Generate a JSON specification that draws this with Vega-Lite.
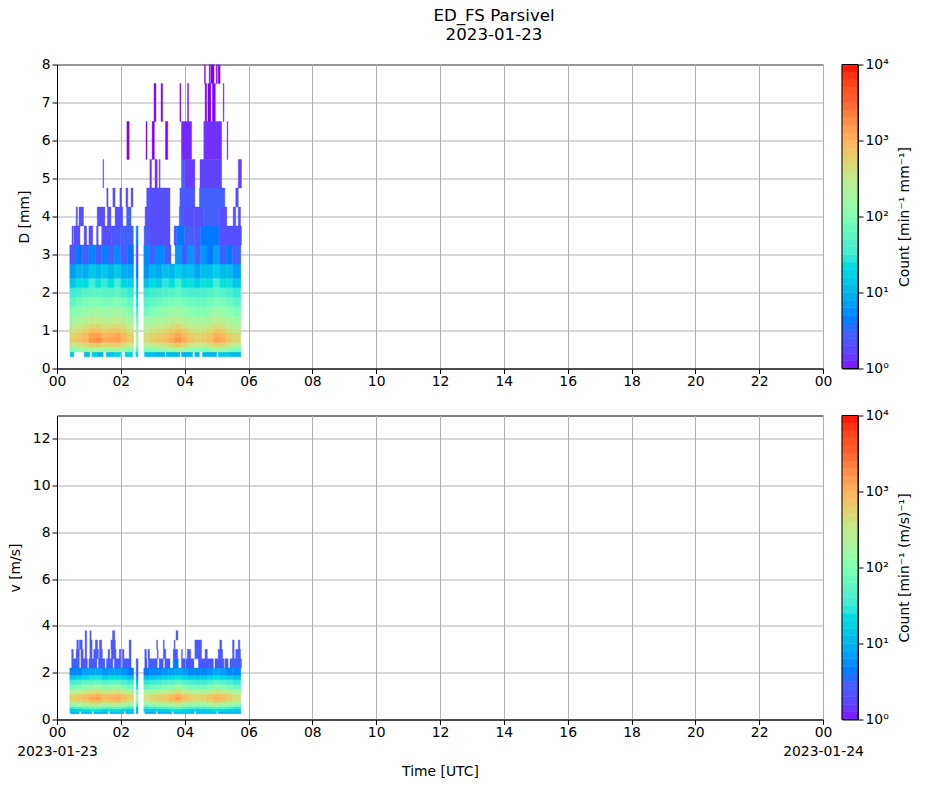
{"$schema":"https://vega.github.io/schema/vega-lite/v6.json","padding":{"left":7,"top":7.5,"right":0,"bottom":0},"background":"white","title":{"text":["ED_FS Parsivel","2023-01-23"],"anchor":"middle","frame":"group","dx":437,"fontWeight":"normal","fontSize":16.67,"font":"DejaVu Sans","lineHeight":19,"offset":13},"config":{"font":"DejaVu Sans","view":{"stroke":"black","strokeWidth":1},"axis":{"labelFont":"DejaVu Sans","titleFont":"DejaVu Sans","labelFontSize":13.9,"titleFontSize":13.9,"titleFontWeight":"normal","gridColor":"#b0b0b0","gridOpacity":1,"gridWidth":1,"tickColor":"black","domainColor":"black","labelColor":"black","titleColor":"black","tickSize":5,"zindex":1,"labelOverlap":false,"labelFlush":false,"labelBound":false}},"bounds":"flush","columns":2,"spacing":{"row":47,"column":19},
"datasets":{"dates":[{"t":0},{"t":24}],"dc":[{"d":0.312,"e":0.437},{"d":0.437,"e":0.562},{"d":0.562,"e":0.687},{"d":0.687,"e":0.812},{"d":0.812,"e":0.937},{"d":0.937,"e":1.062},{"d":1.062,"e":1.187},{"d":1.187,"e":1.375},{"d":1.375,"e":1.625},{"d":1.625,"e":1.875},{"d":1.875,"e":2.125},{"d":2.125,"e":2.375},{"d":2.375,"e":2.75},{"d":2.75,"e":3.25},{"d":3.25,"e":3.75},{"d":3.75,"e":4.25},{"d":4.25,"e":4.75},{"d":4.75,"e":5.5},{"d":5.5,"e":6.5},{"d":6.5,"e":7.5},{"d":7.5,"e":8.5}],
"vc":[{"d":0.25,"e":0.35},{"d":0.35,"e":0.45},{"d":0.45,"e":0.55},{"d":0.55,"e":0.65},{"d":0.65,"e":0.75},{"d":0.75,"e":0.85},{"d":0.85,"e":0.95},{"d":0.95,"e":1.1},{"d":1.1,"e":1.3},{"d":1.3,"e":1.5},{"d":1.5,"e":1.7},{"d":1.7,"e":1.9},{"d":1.9,"e":2.2},{"d":2.2,"e":2.6},{"d":2.6,"e":3.0},{"d":3.0,"e":3.4},{"d":3.4,"e":3.8}],
"cbf":[{"a":1,"b":10000}],
"cb":[{"a":1,"b":1.26,"m":1.12},{"a":1.26,"b":1.58,"m":1.41},{"a":1.58,"b":2,"m":1.78},{"a":2,"b":2.51,"m":2.24},{"a":2.51,"b":3.16,"m":2.82},{"a":3.16,"b":3.98,"m":3.55},{"a":3.98,"b":5.01,"m":4.47},{"a":5.01,"b":6.31,"m":5.62},{"a":6.31,"b":7.94,"m":7.08},{"a":7.94,"b":10,"m":8.91},{"a":10,"b":12.6,"m":11.2},{"a":12.6,"b":15.8,"m":14.1},{"a":15.8,"b":20,"m":17.8},{"a":20,"b":25.1,"m":22.4},{"a":25.1,"b":31.6,"m":28.2},{"a":31.6,"b":39.8,"m":35.5},{"a":39.8,"b":50.1,"m":44.7},{"a":50.1,"b":63.1,"m":56.2},{"a":63.1,"b":79.4,"m":70.8},{"a":79.4,"b":100,"m":89.1},{"a":100,"b":126,"m":112},{"a":126,"b":158,"m":141},{"a":158,"b":200,"m":178},{"a":200,"b":251,"m":224},{"a":251,"b":316,"m":282},{"a":316,"b":398,"m":355},{"a":398,"b":501,"m":447},{"a":501,"b":631,"m":562},{"a":631,"b":794,"m":708},{"a":794,"b":1000,"m":891},{"a":1000,"b":1260,"m":1120},{"a":1260,"b":1580,"m":1410},{"a":1580,"b":2000,"m":1780},{"a":2000,"b":2510,"m":2240},{"a":2510,"b":3160,"m":2820},{"a":3160,"b":3980,"m":3550},{"a":3980,"b":5010,"m":4470},{"a":5010,"b":6310,"m":5620},{"a":6310,"b":7940,"m":7080},{"a":7940,"b":10000,"m":8910}],
"dsd":[
{"t":0.41,"u":0.53,"d":0.312,"n":14},{"t":0.85,"u":1.03,"d":0.312,"n":12},{"t":1.09,"u":1.25,"d":0.312,"n":18},{"t":1.25,"u":1.45,"d":0.312,"n":11},{"t":1.54,"u":1.8,"d":0.312,"n":13},{"t":1.8,"u":2,"d":0.312,"n":18},{"t":2.13,"u":2.37,"d":0.312,"n":18},{"t":2.47,"u":2.54,"d":0.312,"n":20},{"t":2.74,"u":3.1,"d":0.312,"n":12},{"t":3.1,"u":3.38,"d":0.312,"n":10},{"t":3.41,"u":3.85,"d":0.312,"n":12},{"t":3.9,"u":4.25,"d":0.312,"n":10},{"t":4.32,"u":4.46,"d":0.312,"n":10},{"t":4.56,"u":5,"d":0.312,"n":10},{"t":5.05,"u":5.4,"d":0.312,"n":15},{"t":5.4,"u":5.76,"d":0.312,"n":12},
{"t":0.4,"u":0.6,"d":0.437,"n":100},{"t":0.6,"u":0.8,"d":0.437,"n":130},{"t":0.8,"u":1,"d":0.437,"n":160},{"t":1,"u":1.2,"d":0.437,"n":190},{"t":1.2,"u":1.4,"d":0.437,"n":200},{"t":1.4,"u":1.6,"d":0.437,"n":160},{"t":1.6,"u":1.8,"d":0.437,"n":170},{"t":1.8,"u":2,"d":0.437,"n":190},{"t":2,"u":2.2,"d":0.437,"n":150},{"t":2.2,"u":2.4,"d":0.437,"n":100},{"t":2.48,"u":2.54,"d":0.437,"n":50},{"t":2.72,"u":2.9,"d":0.437,"n":90},{"t":2.9,"u":3.1,"d":0.437,"n":100},{"t":3.1,"u":3.3,"d":0.437,"n":120},{"t":3.3,"u":3.5,"d":0.437,"n":140},{"t":3.5,"u":3.7,"d":0.437,"n":170},{"t":3.7,"u":3.9,"d":0.437,"n":200},{"t":3.9,"u":4.1,"d":0.437,"n":160},{"t":4.1,"u":4.3,"d":0.437,"n":120},{"t":4.3,"u":4.5,"d":0.437,"n":110},{"t":4.5,"u":4.7,"d":0.437,"n":100},{"t":4.7,"u":4.9,"d":0.437,"n":130},{"t":4.9,"u":5.1,"d":0.437,"n":170},{"t":5.1,"u":5.3,"d":0.437,"n":160},{"t":5.3,"u":5.5,"d":0.437,"n":120},{"t":5.5,"u":5.76,"d":0.437,"n":90},
{"t":0.4,"u":0.6,"d":0.562,"n":300},{"t":0.6,"u":0.8,"d":0.562,"n":400},{"t":0.8,"u":1,"d":0.562,"n":480},{"t":1,"u":1.2,"d":0.562,"n":600},{"t":1.2,"u":1.4,"d":0.562,"n":650},{"t":1.4,"u":1.6,"d":0.562,"n":500},{"t":1.6,"u":1.8,"d":0.562,"n":540},{"t":1.8,"u":2,"d":0.562,"n":560},{"t":2,"u":2.2,"d":0.562,"n":450},{"t":2.2,"u":2.4,"d":0.562,"n":320},{"t":2.48,"u":2.54,"d":0.562,"n":130},{"t":2.72,"u":2.9,"d":0.562,"n":270},{"t":2.9,"u":3.1,"d":0.562,"n":310},{"t":3.1,"u":3.3,"d":0.562,"n":360},{"t":3.3,"u":3.5,"d":0.562,"n":400},{"t":3.5,"u":3.7,"d":0.562,"n":540},{"t":3.7,"u":3.9,"d":0.562,"n":650},{"t":3.9,"u":4.1,"d":0.562,"n":500},{"t":4.1,"u":4.3,"d":0.562,"n":360},{"t":4.3,"u":4.5,"d":0.562,"n":310},{"t":4.5,"u":4.7,"d":0.562,"n":320},{"t":4.7,"u":4.9,"d":0.562,"n":400},{"t":4.9,"u":5.1,"d":0.562,"n":560},{"t":5.1,"u":5.3,"d":0.562,"n":500},{"t":5.3,"u":5.5,"d":0.562,"n":360},{"t":5.5,"u":5.76,"d":0.562,"n":270},
{"t":0.4,"u":0.6,"d":0.687,"n":600},{"t":0.6,"u":0.8,"d":0.687,"n":800},{"t":0.8,"u":1,"d":0.687,"n":1000},{"t":1,"u":1.2,"d":0.687,"n":1500},{"t":1.2,"u":1.4,"d":0.687,"n":1800},{"t":1.4,"u":1.6,"d":0.687,"n":1200},{"t":1.6,"u":1.8,"d":0.687,"n":1300},{"t":1.8,"u":2,"d":0.687,"n":1400},{"t":2,"u":2.2,"d":0.687,"n":1000},{"t":2.2,"u":2.4,"d":0.687,"n":650},{"t":2.48,"u":2.54,"d":0.687,"n":250},{"t":2.72,"u":2.9,"d":0.687,"n":500},{"t":2.9,"u":3.1,"d":0.687,"n":600},{"t":3.1,"u":3.3,"d":0.687,"n":720},{"t":3.3,"u":3.5,"d":0.687,"n":820},{"t":3.5,"u":3.7,"d":0.687,"n":1200},{"t":3.7,"u":3.9,"d":0.687,"n":1700},{"t":3.9,"u":4.1,"d":0.687,"n":1100},{"t":4.1,"u":4.3,"d":0.687,"n":720},{"t":4.3,"u":4.5,"d":0.687,"n":620},{"t":4.5,"u":4.7,"d":0.687,"n":620},{"t":4.7,"u":4.9,"d":0.687,"n":820},{"t":4.9,"u":5.1,"d":0.687,"n":1300},{"t":5.1,"u":5.3,"d":0.687,"n":1100},{"t":5.3,"u":5.5,"d":0.687,"n":720},{"t":5.5,"u":5.76,"d":0.687,"n":520},
{"t":0.4,"u":0.6,"d":0.812,"n":550},{"t":0.6,"u":0.8,"d":0.812,"n":720},{"t":0.8,"u":1,"d":0.812,"n":880},{"t":1,"u":1.2,"d":0.812,"n":1300},{"t":1.2,"u":1.4,"d":0.812,"n":1400},{"t":1.4,"u":1.6,"d":0.812,"n":1000},{"t":1.6,"u":1.8,"d":0.812,"n":1100},{"t":1.8,"u":2,"d":0.812,"n":1300},{"t":2,"u":2.2,"d":0.812,"n":950},{"t":2.2,"u":2.4,"d":0.812,"n":600},{"t":2.48,"u":2.54,"d":0.812,"n":250},{"t":2.72,"u":2.9,"d":0.812,"n":460},{"t":2.9,"u":3.1,"d":0.812,"n":560},{"t":3.1,"u":3.3,"d":0.812,"n":660},{"t":3.3,"u":3.5,"d":0.812,"n":740},{"t":3.5,"u":3.7,"d":0.812,"n":1000},{"t":3.7,"u":3.9,"d":0.812,"n":1300},{"t":3.9,"u":4.1,"d":0.812,"n":900},{"t":4.1,"u":4.3,"d":0.812,"n":640},{"t":4.3,"u":4.5,"d":0.812,"n":560},{"t":4.5,"u":4.7,"d":0.812,"n":560},{"t":4.7,"u":4.9,"d":0.812,"n":740},{"t":4.9,"u":5.1,"d":0.812,"n":1100},{"t":5.1,"u":5.3,"d":0.812,"n":950},{"t":5.3,"u":5.5,"d":0.812,"n":640},{"t":5.5,"u":5.76,"d":0.812,"n":480},
{"t":0.4,"u":0.6,"d":0.937,"n":400},{"t":0.6,"u":0.8,"d":0.937,"n":500},{"t":0.8,"u":1,"d":0.937,"n":620},{"t":1,"u":1.2,"d":0.937,"n":800},{"t":1.2,"u":1.4,"d":0.937,"n":850},{"t":1.4,"u":1.6,"d":0.937,"n":650},{"t":1.6,"u":1.8,"d":0.937,"n":720},{"t":1.8,"u":2,"d":0.937,"n":800},{"t":2,"u":2.2,"d":0.937,"n":620},{"t":2.2,"u":2.4,"d":0.937,"n":420},{"t":2.48,"u":2.54,"d":0.937,"n":180},{"t":2.72,"u":2.9,"d":0.937,"n":330},{"t":2.9,"u":3.1,"d":0.937,"n":400},{"t":3.1,"u":3.3,"d":0.937,"n":460},{"t":3.3,"u":3.5,"d":0.937,"n":500},{"t":3.5,"u":3.7,"d":0.937,"n":680},{"t":3.7,"u":3.9,"d":0.937,"n":800},{"t":3.9,"u":4.1,"d":0.937,"n":620},{"t":4.1,"u":4.3,"d":0.937,"n":450},{"t":4.3,"u":4.5,"d":0.937,"n":400},{"t":4.5,"u":4.7,"d":0.937,"n":400},{"t":4.7,"u":4.9,"d":0.937,"n":520},{"t":4.9,"u":5.1,"d":0.937,"n":720},{"t":5.1,"u":5.3,"d":0.937,"n":640},{"t":5.3,"u":5.5,"d":0.937,"n":450},{"t":5.5,"u":5.76,"d":0.937,"n":340},
{"t":0.4,"u":0.6,"d":1.062,"n":260},{"t":0.6,"u":0.8,"d":1.062,"n":340},{"t":0.8,"u":1,"d":1.062,"n":400},{"t":1,"u":1.2,"d":1.062,"n":500},{"t":1.2,"u":1.4,"d":1.062,"n":520},{"t":1.4,"u":1.6,"d":1.062,"n":420},{"t":1.6,"u":1.8,"d":1.062,"n":450},{"t":1.8,"u":2,"d":1.062,"n":500},{"t":2,"u":2.2,"d":1.062,"n":400},{"t":2.2,"u":2.4,"d":1.062,"n":280},{"t":2.48,"u":2.54,"d":1.062,"n":110},{"t":2.72,"u":2.9,"d":1.062,"n":220},{"t":2.9,"u":3.1,"d":1.062,"n":260},{"t":3.1,"u":3.3,"d":1.062,"n":300},{"t":3.3,"u":3.5,"d":1.062,"n":340},{"t":3.5,"u":3.7,"d":1.062,"n":420},{"t":3.7,"u":3.9,"d":1.062,"n":480},{"t":3.9,"u":4.1,"d":1.062,"n":380},{"t":4.1,"u":4.3,"d":1.062,"n":300},{"t":4.3,"u":4.5,"d":1.062,"n":270},{"t":4.5,"u":4.7,"d":1.062,"n":270},{"t":4.7,"u":4.9,"d":1.062,"n":340},{"t":4.9,"u":5.1,"d":1.062,"n":450},{"t":5.1,"u":5.3,"d":1.062,"n":400},{"t":5.3,"u":5.5,"d":1.062,"n":300},{"t":5.5,"u":5.76,"d":1.062,"n":230},
{"t":0.4,"u":0.6,"d":1.187,"n":170},{"t":0.6,"u":0.8,"d":1.187,"n":200},{"t":0.8,"u":1,"d":1.187,"n":260},{"t":1,"u":1.2,"d":1.187,"n":300},{"t":1.2,"u":1.4,"d":1.187,"n":320},{"t":1.4,"u":1.6,"d":1.187,"n":260},{"t":1.6,"u":1.8,"d":1.187,"n":280},{"t":1.8,"u":2,"d":1.187,"n":300},{"t":2,"u":2.2,"d":1.187,"n":250},{"t":2.2,"u":2.4,"d":1.187,"n":170},{"t":2.48,"u":2.54,"d":1.187,"n":70},{"t":2.72,"u":2.9,"d":1.187,"n":140},{"t":2.9,"u":3.1,"d":1.187,"n":170},{"t":3.1,"u":3.3,"d":1.187,"n":190},{"t":3.3,"u":3.5,"d":1.187,"n":210},{"t":3.5,"u":3.7,"d":1.187,"n":260},{"t":3.7,"u":3.9,"d":1.187,"n":280},{"t":3.9,"u":4.1,"d":1.187,"n":230},{"t":4.1,"u":4.3,"d":1.187,"n":190},{"t":4.3,"u":4.5,"d":1.187,"n":170},{"t":4.5,"u":4.7,"d":1.187,"n":170},{"t":4.7,"u":4.9,"d":1.187,"n":220},{"t":4.9,"u":5.1,"d":1.187,"n":270},{"t":5.1,"u":5.3,"d":1.187,"n":250},{"t":5.3,"u":5.5,"d":1.187,"n":190},{"t":5.5,"u":5.76,"d":1.187,"n":150},
{"t":0.4,"u":0.6,"d":1.375,"n":100},{"t":0.6,"u":0.8,"d":1.375,"n":120},{"t":0.8,"u":1,"d":1.375,"n":140},{"t":1,"u":1.2,"d":1.375,"n":160},{"t":1.2,"u":1.4,"d":1.375,"n":170},{"t":1.4,"u":1.6,"d":1.375,"n":150},{"t":1.6,"u":1.8,"d":1.375,"n":160},{"t":1.8,"u":2,"d":1.375,"n":170},{"t":2,"u":2.2,"d":1.375,"n":140},{"t":2.2,"u":2.4,"d":1.375,"n":100},{"t":2.48,"u":2.54,"d":1.375,"n":40},{"t":2.72,"u":2.9,"d":1.375,"n":80},{"t":2.9,"u":3.1,"d":1.375,"n":100},{"t":3.1,"u":3.3,"d":1.375,"n":110},{"t":3.3,"u":3.5,"d":1.375,"n":120},{"t":3.5,"u":3.7,"d":1.375,"n":150},{"t":3.7,"u":3.9,"d":1.375,"n":160},{"t":3.9,"u":4.1,"d":1.375,"n":130},{"t":4.1,"u":4.3,"d":1.375,"n":110},{"t":4.3,"u":4.5,"d":1.375,"n":100},{"t":4.5,"u":4.7,"d":1.375,"n":100},{"t":4.7,"u":4.9,"d":1.375,"n":130},{"t":4.9,"u":5.1,"d":1.375,"n":160},{"t":5.1,"u":5.3,"d":1.375,"n":140},{"t":5.3,"u":5.5,"d":1.375,"n":110},{"t":5.5,"u":5.76,"d":1.375,"n":90},
{"t":0.4,"u":0.6,"d":1.625,"n":60},{"t":0.6,"u":0.8,"d":1.625,"n":75},{"t":0.8,"u":1,"d":1.625,"n":85},{"t":1,"u":1.2,"d":1.625,"n":100},{"t":1.2,"u":1.4,"d":1.625,"n":100},{"t":1.4,"u":1.6,"d":1.625,"n":85},{"t":1.6,"u":1.8,"d":1.625,"n":90},{"t":1.8,"u":2,"d":1.625,"n":100},{"t":2,"u":2.2,"d":1.625,"n":85},{"t":2.2,"u":2.4,"d":1.625,"n":60},{"t":2.48,"u":2.54,"d":1.625,"n":25},{"t":2.72,"u":2.9,"d":1.625,"n":50},{"t":2.9,"u":3.1,"d":1.625,"n":60},{"t":3.1,"u":3.3,"d":1.625,"n":70},{"t":3.3,"u":3.5,"d":1.625,"n":75},{"t":3.5,"u":3.7,"d":1.625,"n":90},{"t":3.7,"u":3.9,"d":1.625,"n":95},{"t":3.9,"u":4.1,"d":1.625,"n":80},{"t":4.1,"u":4.3,"d":1.625,"n":70},{"t":4.3,"u":4.5,"d":1.625,"n":65},{"t":4.5,"u":4.7,"d":1.625,"n":65},{"t":4.7,"u":4.9,"d":1.625,"n":80},{"t":4.9,"u":5.1,"d":1.625,"n":95},{"t":5.1,"u":5.3,"d":1.625,"n":85},{"t":5.3,"u":5.5,"d":1.625,"n":70},{"t":5.5,"u":5.76,"d":1.625,"n":55},
{"t":0.4,"u":0.6,"d":1.875,"n":35},{"t":0.6,"u":0.8,"d":1.875,"n":40},{"t":0.8,"u":1,"d":1.875,"n":50},{"t":1,"u":1.2,"d":1.875,"n":55},{"t":1.2,"u":1.4,"d":1.875,"n":55},{"t":1.4,"u":1.6,"d":1.875,"n":50},{"t":1.6,"u":1.8,"d":1.875,"n":50},{"t":1.8,"u":2,"d":1.875,"n":55},{"t":2,"u":2.2,"d":1.875,"n":45},{"t":2.2,"u":2.4,"d":1.875,"n":30},{"t":2.48,"u":2.54,"d":1.875,"n":15},{"t":2.72,"u":2.9,"d":1.875,"n":30},{"t":2.9,"u":3.1,"d":1.875,"n":35},{"t":3.1,"u":3.3,"d":1.875,"n":40},{"t":3.3,"u":3.5,"d":1.875,"n":45},{"t":3.5,"u":3.7,"d":1.875,"n":50},{"t":3.7,"u":3.9,"d":1.875,"n":55},{"t":3.9,"u":4.1,"d":1.875,"n":45},{"t":4.1,"u":4.3,"d":1.875,"n":40},{"t":4.3,"u":4.5,"d":1.875,"n":40},{"t":4.5,"u":4.7,"d":1.875,"n":40},{"t":4.7,"u":4.9,"d":1.875,"n":50},{"t":4.9,"u":5.1,"d":1.875,"n":55},{"t":5.1,"u":5.3,"d":1.875,"n":50},{"t":5.3,"u":5.5,"d":1.875,"n":40},{"t":5.5,"u":5.76,"d":1.875,"n":30},
{"t":0.4,"u":0.6,"d":2.125,"n":15},{"t":0.6,"u":0.8,"d":2.125,"n":24},{"t":0.8,"u":1,"d":2.125,"n":22},{"t":1,"u":1.2,"d":2.125,"n":32},{"t":1.2,"u":1.4,"d":2.125,"n":25},{"t":1.4,"u":1.6,"d":2.125,"n":30},{"t":1.6,"u":1.8,"d":2.125,"n":24},{"t":1.8,"u":2,"d":2.125,"n":33},{"t":2,"u":2.2,"d":2.125,"n":20},{"t":2.2,"u":2.4,"d":2.125,"n":18},{"t":2.48,"u":2.54,"d":2.125,"n":8},{"t":2.72,"u":2.9,"d":2.125,"n":13},{"t":2.9,"u":3.1,"d":2.125,"n":22},{"t":3.1,"u":3.3,"d":2.125,"n":18},{"t":3.3,"u":3.5,"d":2.125,"n":28},{"t":3.5,"u":3.7,"d":2.125,"n":24},{"t":3.7,"u":3.9,"d":2.125,"n":34},{"t":3.9,"u":4.1,"d":2.125,"n":24},{"t":4.1,"u":4.3,"d":2.125,"n":25},{"t":4.3,"u":4.5,"d":2.125,"n":18},{"t":4.5,"u":4.7,"d":2.125,"n":25},{"t":4.7,"u":4.9,"d":2.125,"n":24},{"t":4.9,"u":5.1,"d":2.125,"n":36},{"t":5.1,"u":5.3,"d":2.125,"n":24},{"t":5.3,"u":5.5,"d":2.125,"n":25},{"t":5.5,"u":5.76,"d":2.125,"n":15},
{"t":0.4,"u":0.6,"d":2.375,"n":7},{"t":0.6,"u":0.8,"d":2.375,"n":11},{"t":0.8,"u":1,"d":2.375,"n":9},{"t":1,"u":1.2,"d":2.375,"n":15},{"t":1.2,"u":1.4,"d":2.375,"n":11},{"t":1.4,"u":1.6,"d":2.375,"n":14},{"t":1.6,"u":1.8,"d":2.375,"n":10},{"t":1.8,"u":2,"d":2.375,"n":15},{"t":2,"u":2.2,"d":2.375,"n":9},{"t":2.2,"u":2.4,"d":2.375,"n":8},{"t":2.48,"u":2.54,"d":2.375,"n":4},{"t":2.72,"u":2.9,"d":2.375,"n":6},{"t":2.9,"u":3.1,"d":2.375,"n":10},{"t":3.1,"u":3.3,"d":2.375,"n":8},{"t":3.3,"u":3.5,"d":2.375,"n":12},{"t":3.5,"u":3.7,"d":2.375,"n":11},{"t":3.7,"u":3.9,"d":2.375,"n":16},{"t":3.9,"u":4.1,"d":2.375,"n":12},{"t":4.1,"u":4.3,"d":2.375,"n":13},{"t":4.3,"u":4.5,"d":2.375,"n":8},{"t":4.5,"u":4.7,"d":2.375,"n":12},{"t":4.7,"u":4.9,"d":2.375,"n":12},{"t":4.9,"u":5.1,"d":2.375,"n":17},{"t":5.1,"u":5.3,"d":2.375,"n":11},{"t":5.3,"u":5.5,"d":2.375,"n":12},{"t":5.5,"u":5.76,"d":2.375,"n":7},
{"t":0.4,"u":0.6,"d":2.75,"n":2.5},{"t":0.6,"u":0.8,"d":2.75,"n":4},{"t":0.8,"u":1,"d":2.75,"n":3},{"t":1,"u":1.2,"d":2.75,"n":5},{"t":1.2,"u":1.4,"d":2.75,"n":2.5},{"t":1.4,"u":1.6,"d":2.75,"n":4.5},{"t":1.6,"u":1.8,"d":2.75,"n":3},{"t":1.8,"u":2,"d":2.75,"n":5},{"t":2,"u":2.2,"d":2.75,"n":2.5},{"t":2.2,"u":2.4,"d":2.75,"n":4},{"t":2.48,"u":2.54,"d":2.75,"n":2},{"t":2.72,"u":2.9,"d":2.75,"n":5},{"t":2.9,"u":3.1,"d":2.75,"n":3},{"t":3.1,"u":3.38,"d":2.75,"n":5},{"t":3.38,"u":3.57,"d":2.75,"n":2.5},{"t":3.7,"u":3.9,"d":2.75,"n":6},{"t":3.9,"u":4.1,"d":2.75,"n":3},{"t":4.1,"u":4.3,"d":2.75,"n":6},{"t":4.3,"u":4.5,"d":2.75,"n":3},{"t":4.5,"u":4.7,"d":2.75,"n":6},{"t":4.7,"u":4.9,"d":2.75,"n":4},{"t":4.9,"u":5.1,"d":2.75,"n":7},{"t":5.1,"u":5.3,"d":2.75,"n":3},{"t":5.3,"u":5.5,"d":2.75,"n":4},{"t":5.5,"u":5.76,"d":2.75,"n":3},
{"t":0.47,"u":0.51,"d":3.25,"n":2},{"t":0.53,"u":0.72,"d":3.25,"n":2},{"t":0.85,"u":0.93,"d":3.25,"n":2},{"t":1,"u":1.12,"d":3.25,"n":2},{"t":1.24,"u":1.29,"d":3.25,"n":2},{"t":1.4,"u":1.7,"d":3.25,"n":2},{"t":1.7,"u":2,"d":3.25,"n":2.5},{"t":2,"u":2.39,"d":3.25,"n":3},{"t":2.48,"u":2.54,"d":3.25,"n":5},{"t":2.73,"u":2.91,"d":3.25,"n":3},{"t":2.91,"u":3.54,"d":3.25,"n":2},{"t":3.67,"u":3.75,"d":3.25,"n":2},{"t":3.75,"u":4,"d":3.25,"n":4},{"t":4,"u":4.3,"d":3.25,"n":3},{"t":4.3,"u":4.5,"d":3.25,"n":2.5},{"t":4.5,"u":5.1,"d":3.25,"n":4},{"t":5.1,"u":5.78,"d":3.25,"n":2},
{"t":0.6,"u":0.64,"d":3.75,"n":2},{"t":0.69,"u":0.83,"d":3.75,"n":2},{"t":1.26,"u":1.5,"d":3.75,"n":2},{"t":1.58,"u":1.69,"d":3.75,"n":2},{"t":1.82,"u":2.06,"d":3.75,"n":2},{"t":2.18,"u":2.32,"d":3.75,"n":3},{"t":2.76,"u":2.91,"d":3.75,"n":2},{"t":2.91,"u":3.54,"d":3.75,"n":2},{"t":3.83,"u":3.95,"d":3.75,"n":3},{"t":3.95,"u":4.3,"d":3.75,"n":2},{"t":4.3,"u":4.6,"d":3.75,"n":2},{"t":4.6,"u":5.1,"d":3.75,"n":3},{"t":5.1,"u":5.32,"d":3.75,"n":2},{"t":5.52,"u":5.6,"d":3.75,"n":2},{"t":5.68,"u":5.75,"d":3.75,"n":2},
{"t":1.56,"u":1.6,"d":4.25,"n":2},{"t":1.75,"u":1.82,"d":4.25,"n":2},{"t":1.97,"u":2.02,"d":4.25,"n":2},{"t":2.16,"u":2.22,"d":4.25,"n":2},{"t":2.32,"u":2.38,"d":4.25,"n":2},{"t":2.81,"u":2.91,"d":4.25,"n":2},{"t":2.91,"u":3.54,"d":4.25,"n":2},{"t":3.85,"u":4.32,"d":4.25,"n":2.5},{"t":4.46,"u":5.26,"d":4.25,"n":3},{"t":5.6,"u":5.68,"d":4.25,"n":2},
{"t":1.44,"u":1.46,"d":4.75,"n":1.3},{"t":2.91,"u":2.96,"d":4.75,"n":1.3},{"t":3.07,"u":3.14,"d":4.75,"n":1.3},{"t":3.2,"u":3.23,"d":4.75,"n":1.3},{"t":3.9,"u":4,"d":4.75,"n":3},{"t":4,"u":4.32,"d":4.75,"n":1.5},{"t":4.48,"u":5.16,"d":4.75,"n":1.7},{"t":5.68,"u":5.78,"d":4.75,"n":1.5},
{"t":2.19,"u":2.26,"d":5.5,"n":1},{"t":2.79,"u":2.82,"d":5.5,"n":1},{"t":2.98,"u":3.05,"d":5.5,"n":1},{"t":3.4,"u":3.47,"d":5.5,"n":1},{"t":3.9,"u":4.22,"d":5.5,"n":1.2},{"t":4.6,"u":5.16,"d":5.5,"n":1.3},{"t":5.33,"u":5.35,"d":5.5,"n":1},
{"t":3.04,"u":3.1,"d":6.5,"n":1},{"t":3.26,"u":3.31,"d":6.5,"n":1},{"t":3.85,"u":3.88,"d":6.5,"n":1},{"t":4.09,"u":4.12,"d":6.5,"n":1},{"t":4.64,"u":4.69,"d":6.5,"n":1},{"t":4.73,"u":4.82,"d":6.5,"n":1},{"t":4.87,"u":4.96,"d":6.5,"n":1},{"t":5.21,"u":5.23,"d":6.5,"n":1},
{"t":4.62,"u":4.65,"d":7.5,"n":1},{"t":4.77,"u":4.8,"d":7.5,"n":1},{"t":4.82,"u":4.92,"d":7.5,"n":1},{"t":4.99,"u":5.02,"d":7.5,"n":1},{"t":5.05,"u":5.11,"d":7.5,"n":1}],
"vel":[
{"t":0.41,"u":0.7,"d":0.25,"n":10},{"t":0.75,"u":1.1,"d":0.25,"n":12},{"t":1.15,"u":1.6,"d":0.25,"n":11},{"t":1.65,"u":2.1,"d":0.25,"n":12},{"t":2.15,"u":2.4,"d":0.25,"n":10},{"t":2.48,"u":2.54,"d":0.25,"n":8},{"t":2.75,"u":3.1,"d":0.25,"n":9},{"t":3.15,"u":3.6,"d":0.25,"n":10},{"t":3.65,"u":4.3,"d":0.25,"n":12},{"t":4.35,"u":5,"d":0.25,"n":12},{"t":5.05,"u":5.76,"d":0.25,"n":10},
{"t":0.4,"u":0.6,"d":0.35,"n":15},{"t":0.6,"u":0.8,"d":0.35,"n":18},{"t":0.8,"u":1,"d":0.35,"n":22},{"t":1,"u":1.2,"d":0.35,"n":25},{"t":1.2,"u":1.4,"d":0.35,"n":25},{"t":1.4,"u":1.6,"d":0.35,"n":20},{"t":1.6,"u":1.8,"d":0.35,"n":22},{"t":1.8,"u":2,"d":0.35,"n":22},{"t":2,"u":2.2,"d":0.35,"n":18},{"t":2.2,"u":2.4,"d":0.35,"n":14},{"t":2.48,"u":2.54,"d":0.35,"n":10},{"t":2.72,"u":2.9,"d":0.35,"n":14},{"t":2.9,"u":3.1,"d":0.35,"n":15},{"t":3.1,"u":3.3,"d":0.35,"n":16},{"t":3.3,"u":3.5,"d":0.35,"n":18},{"t":3.5,"u":3.7,"d":0.35,"n":22},{"t":3.7,"u":3.9,"d":0.35,"n":24},{"t":3.9,"u":4.1,"d":0.35,"n":20},{"t":4.1,"u":4.3,"d":0.35,"n":16},{"t":4.3,"u":4.5,"d":0.35,"n":15},{"t":4.5,"u":4.7,"d":0.35,"n":15},{"t":4.7,"u":4.9,"d":0.35,"n":18},{"t":4.9,"u":5.1,"d":0.35,"n":22},{"t":5.1,"u":5.3,"d":0.35,"n":20},{"t":5.3,"u":5.5,"d":0.35,"n":16},{"t":5.5,"u":5.76,"d":0.35,"n":14},
{"t":0.4,"u":0.6,"d":0.45,"n":30},{"t":0.6,"u":0.8,"d":0.45,"n":40},{"t":0.8,"u":1,"d":0.45,"n":50},{"t":1,"u":1.2,"d":0.45,"n":60},{"t":1.2,"u":1.4,"d":0.45,"n":60},{"t":1.4,"u":1.6,"d":0.45,"n":50},{"t":1.6,"u":1.8,"d":0.45,"n":50},{"t":1.8,"u":2,"d":0.45,"n":55},{"t":2,"u":2.2,"d":0.45,"n":45},{"t":2.2,"u":2.4,"d":0.45,"n":30},{"t":2.48,"u":2.54,"d":0.45,"n":12},{"t":2.72,"u":2.9,"d":0.45,"n":28},{"t":2.9,"u":3.1,"d":0.45,"n":32},{"t":3.1,"u":3.3,"d":0.45,"n":36},{"t":3.3,"u":3.5,"d":0.45,"n":40},{"t":3.5,"u":3.7,"d":0.45,"n":50},{"t":3.7,"u":3.9,"d":0.45,"n":55},{"t":3.9,"u":4.1,"d":0.45,"n":45},{"t":4.1,"u":4.3,"d":0.45,"n":36},{"t":4.3,"u":4.5,"d":0.45,"n":32},{"t":4.5,"u":4.7,"d":0.45,"n":34},{"t":4.7,"u":4.9,"d":0.45,"n":42},{"t":4.9,"u":5.1,"d":0.45,"n":50},{"t":5.1,"u":5.3,"d":0.45,"n":45},{"t":5.3,"u":5.5,"d":0.45,"n":36},{"t":5.5,"u":5.76,"d":0.45,"n":28},
{"t":0.4,"u":0.6,"d":0.55,"n":90},{"t":0.6,"u":0.8,"d":0.55,"n":110},{"t":0.8,"u":1,"d":0.55,"n":140},{"t":1,"u":1.2,"d":0.55,"n":170},{"t":1.2,"u":1.4,"d":0.55,"n":170},{"t":1.4,"u":1.6,"d":0.55,"n":130},{"t":1.6,"u":1.8,"d":0.55,"n":140},{"t":1.8,"u":2,"d":0.55,"n":160},{"t":2,"u":2.2,"d":0.55,"n":120},{"t":2.2,"u":2.4,"d":0.55,"n":80},{"t":2.48,"u":2.54,"d":0.55,"n":30},{"t":2.72,"u":2.9,"d":0.55,"n":70},{"t":2.9,"u":3.1,"d":0.55,"n":85},{"t":3.1,"u":3.3,"d":0.55,"n":100},{"t":3.3,"u":3.5,"d":0.55,"n":110},{"t":3.5,"u":3.7,"d":0.55,"n":140},{"t":3.7,"u":3.9,"d":0.55,"n":160},{"t":3.9,"u":4.1,"d":0.55,"n":120},{"t":4.1,"u":4.3,"d":0.55,"n":95},{"t":4.3,"u":4.5,"d":0.55,"n":90},{"t":4.5,"u":4.7,"d":0.55,"n":90},{"t":4.7,"u":4.9,"d":0.55,"n":120},{"t":4.9,"u":5.1,"d":0.55,"n":140},{"t":5.1,"u":5.3,"d":0.55,"n":120},{"t":5.3,"u":5.5,"d":0.55,"n":100},{"t":5.5,"u":5.76,"d":0.55,"n":75},
{"t":0.4,"u":0.6,"d":0.65,"n":220},{"t":0.6,"u":0.8,"d":0.65,"n":280},{"t":0.8,"u":1,"d":0.65,"n":350},{"t":1,"u":1.2,"d":0.65,"n":420},{"t":1.2,"u":1.4,"d":0.65,"n":450},{"t":1.4,"u":1.6,"d":0.65,"n":340},{"t":1.6,"u":1.8,"d":0.65,"n":360},{"t":1.8,"u":2,"d":0.65,"n":400},{"t":2,"u":2.2,"d":0.65,"n":300},{"t":2.2,"u":2.4,"d":0.65,"n":200},{"t":2.48,"u":2.54,"d":0.65,"n":70},{"t":2.72,"u":2.9,"d":0.65,"n":170},{"t":2.9,"u":3.1,"d":0.65,"n":210},{"t":3.1,"u":3.3,"d":0.65,"n":240},{"t":3.3,"u":3.5,"d":0.65,"n":270},{"t":3.5,"u":3.7,"d":0.65,"n":350},{"t":3.7,"u":3.9,"d":0.65,"n":400},{"t":3.9,"u":4.1,"d":0.65,"n":300},{"t":4.1,"u":4.3,"d":0.65,"n":230},{"t":4.3,"u":4.5,"d":0.65,"n":210},{"t":4.5,"u":4.7,"d":0.65,"n":210},{"t":4.7,"u":4.9,"d":0.65,"n":280},{"t":4.9,"u":5.1,"d":0.65,"n":380},{"t":5.1,"u":5.3,"d":0.65,"n":330},{"t":5.3,"u":5.5,"d":0.65,"n":240},{"t":5.5,"u":5.76,"d":0.65,"n":180},
{"t":0.4,"u":0.6,"d":0.75,"n":420},{"t":0.6,"u":0.8,"d":0.75,"n":550},{"t":0.8,"u":1,"d":0.75,"n":680},{"t":1,"u":1.2,"d":0.75,"n":850},{"t":1.2,"u":1.4,"d":0.75,"n":900},{"t":1.4,"u":1.6,"d":0.75,"n":650},{"t":1.6,"u":1.8,"d":0.75,"n":700},{"t":1.8,"u":2,"d":0.75,"n":800},{"t":2,"u":2.2,"d":0.75,"n":600},{"t":2.2,"u":2.4,"d":0.75,"n":400},{"t":2.48,"u":2.54,"d":0.75,"n":130},{"t":2.72,"u":2.9,"d":0.75,"n":320},{"t":2.9,"u":3.1,"d":0.75,"n":400},{"t":3.1,"u":3.3,"d":0.75,"n":460},{"t":3.3,"u":3.5,"d":0.75,"n":520},{"t":3.5,"u":3.7,"d":0.75,"n":700},{"t":3.7,"u":3.9,"d":0.75,"n":850},{"t":3.9,"u":4.1,"d":0.75,"n":600},{"t":4.1,"u":4.3,"d":0.75,"n":450},{"t":4.3,"u":4.5,"d":0.75,"n":400},{"t":4.5,"u":4.7,"d":0.75,"n":400},{"t":4.7,"u":4.9,"d":0.75,"n":540},{"t":4.9,"u":5.1,"d":0.75,"n":750},{"t":5.1,"u":5.3,"d":0.75,"n":650},{"t":5.3,"u":5.5,"d":0.75,"n":460},{"t":5.5,"u":5.76,"d":0.75,"n":340},
{"t":0.4,"u":0.6,"d":0.85,"n":650},{"t":0.6,"u":0.8,"d":0.85,"n":850},{"t":0.8,"u":1,"d":0.85,"n":1050},{"t":1,"u":1.2,"d":0.85,"n":1400},{"t":1.2,"u":1.4,"d":0.85,"n":1500},{"t":1.4,"u":1.6,"d":0.85,"n":1000},{"t":1.6,"u":1.8,"d":0.85,"n":1100},{"t":1.8,"u":2,"d":0.85,"n":1300},{"t":2,"u":2.2,"d":0.85,"n":950},{"t":2.2,"u":2.4,"d":0.85,"n":620},{"t":2.48,"u":2.54,"d":0.85,"n":200},{"t":2.72,"u":2.9,"d":0.85,"n":480},{"t":2.9,"u":3.1,"d":0.85,"n":600},{"t":3.1,"u":3.3,"d":0.85,"n":720},{"t":3.3,"u":3.5,"d":0.85,"n":800},{"t":3.5,"u":3.7,"d":0.85,"n":1100},{"t":3.7,"u":3.9,"d":0.85,"n":1500},{"t":3.9,"u":4.1,"d":0.85,"n":950},{"t":4.1,"u":4.3,"d":0.85,"n":680},{"t":4.3,"u":4.5,"d":0.85,"n":600},{"t":4.5,"u":4.7,"d":0.85,"n":620},{"t":4.7,"u":4.9,"d":0.85,"n":850},{"t":4.9,"u":5.1,"d":0.85,"n":1200},{"t":5.1,"u":5.3,"d":0.85,"n":1000},{"t":5.3,"u":5.5,"d":0.85,"n":700},{"t":5.5,"u":5.76,"d":0.85,"n":500},
{"t":0.4,"u":0.6,"d":0.95,"n":480},{"t":0.6,"u":0.8,"d":0.95,"n":620},{"t":0.8,"u":1,"d":0.95,"n":780},{"t":1,"u":1.2,"d":0.95,"n":1000},{"t":1.2,"u":1.4,"d":0.95,"n":1100},{"t":1.4,"u":1.6,"d":0.95,"n":780},{"t":1.6,"u":1.8,"d":0.95,"n":850},{"t":1.8,"u":2,"d":0.95,"n":950},{"t":2,"u":2.2,"d":0.95,"n":720},{"t":2.2,"u":2.4,"d":0.95,"n":480},{"t":2.48,"u":2.54,"d":0.95,"n":150},{"t":2.72,"u":2.9,"d":0.95,"n":370},{"t":2.9,"u":3.1,"d":0.95,"n":460},{"t":3.1,"u":3.3,"d":0.95,"n":540},{"t":3.3,"u":3.5,"d":0.95,"n":600},{"t":3.5,"u":3.7,"d":0.95,"n":800},{"t":3.7,"u":3.9,"d":0.95,"n":1050},{"t":3.9,"u":4.1,"d":0.95,"n":720},{"t":4.1,"u":4.3,"d":0.95,"n":520},{"t":4.3,"u":4.5,"d":0.95,"n":470},{"t":4.5,"u":4.7,"d":0.95,"n":480},{"t":4.7,"u":4.9,"d":0.95,"n":640},{"t":4.9,"u":5.1,"d":0.95,"n":880},{"t":5.1,"u":5.3,"d":0.95,"n":760},{"t":5.3,"u":5.5,"d":0.95,"n":540},{"t":5.5,"u":5.76,"d":0.95,"n":400},
{"t":0.4,"u":0.6,"d":1.1,"n":220},{"t":0.6,"u":0.8,"d":1.1,"n":280},{"t":0.8,"u":1,"d":1.1,"n":340},{"t":1,"u":1.2,"d":1.1,"n":420},{"t":1.2,"u":1.4,"d":1.1,"n":450},{"t":1.4,"u":1.6,"d":1.1,"n":340},{"t":1.6,"u":1.8,"d":1.1,"n":370},{"t":1.8,"u":2,"d":1.1,"n":420},{"t":2,"u":2.2,"d":1.1,"n":320},{"t":2.2,"u":2.4,"d":1.1,"n":210},{"t":2.48,"u":2.54,"d":1.1,"n":70},{"t":2.72,"u":2.9,"d":1.1,"n":160},{"t":2.9,"u":3.1,"d":1.1,"n":200},{"t":3.1,"u":3.3,"d":1.1,"n":240},{"t":3.3,"u":3.5,"d":1.1,"n":270},{"t":3.5,"u":3.7,"d":1.1,"n":340},{"t":3.7,"u":3.9,"d":1.1,"n":430},{"t":3.9,"u":4.1,"d":1.1,"n":320},{"t":4.1,"u":4.3,"d":1.1,"n":240},{"t":4.3,"u":4.5,"d":1.1,"n":210},{"t":4.5,"u":4.7,"d":1.1,"n":210},{"t":4.7,"u":4.9,"d":1.1,"n":280},{"t":4.9,"u":5.1,"d":1.1,"n":380},{"t":5.1,"u":5.3,"d":1.1,"n":330},{"t":5.3,"u":5.5,"d":1.1,"n":240},{"t":5.5,"u":5.76,"d":1.1,"n":180},
{"t":0.4,"u":0.6,"d":1.3,"n":85},{"t":0.6,"u":0.8,"d":1.3,"n":100},{"t":0.8,"u":1,"d":1.3,"n":120},{"t":1,"u":1.2,"d":1.3,"n":150},{"t":1.2,"u":1.4,"d":1.3,"n":150},{"t":1.4,"u":1.6,"d":1.3,"n":120},{"t":1.6,"u":1.8,"d":1.3,"n":130},{"t":1.8,"u":2,"d":1.3,"n":150},{"t":2,"u":2.2,"d":1.3,"n":110},{"t":2.2,"u":2.4,"d":1.3,"n":75},{"t":2.48,"u":2.54,"d":1.3,"n":25},{"t":2.72,"u":2.9,"d":1.3,"n":60},{"t":2.9,"u":3.1,"d":1.3,"n":75},{"t":3.1,"u":3.3,"d":1.3,"n":85},{"t":3.3,"u":3.5,"d":1.3,"n":95},{"t":3.5,"u":3.7,"d":1.3,"n":120},{"t":3.7,"u":3.9,"d":1.3,"n":150},{"t":3.9,"u":4.1,"d":1.3,"n":115},{"t":4.1,"u":4.3,"d":1.3,"n":90},{"t":4.3,"u":4.5,"d":1.3,"n":80},{"t":4.5,"u":4.7,"d":1.3,"n":80},{"t":4.7,"u":4.9,"d":1.3,"n":100},{"t":4.9,"u":5.1,"d":1.3,"n":130},{"t":5.1,"u":5.3,"d":1.3,"n":115},{"t":5.3,"u":5.5,"d":1.3,"n":90},{"t":5.5,"u":5.76,"d":1.3,"n":70},
{"t":0.4,"u":0.6,"d":1.5,"n":35},{"t":0.6,"u":0.8,"d":1.5,"n":45},{"t":0.8,"u":1,"d":1.5,"n":55},{"t":1,"u":1.2,"d":1.5,"n":60},{"t":1.2,"u":1.4,"d":1.5,"n":65},{"t":1.4,"u":1.6,"d":1.5,"n":50},{"t":1.6,"u":1.8,"d":1.5,"n":55},{"t":1.8,"u":2,"d":1.5,"n":60},{"t":2,"u":2.2,"d":1.5,"n":45},{"t":2.2,"u":2.4,"d":1.5,"n":30},{"t":2.48,"u":2.54,"d":1.5,"n":12},{"t":2.72,"u":2.9,"d":1.5,"n":28},{"t":2.9,"u":3.1,"d":1.5,"n":32},{"t":3.1,"u":3.3,"d":1.5,"n":36},{"t":3.3,"u":3.5,"d":1.5,"n":42},{"t":3.5,"u":3.7,"d":1.5,"n":50},{"t":3.7,"u":3.9,"d":1.5,"n":60},{"t":3.9,"u":4.1,"d":1.5,"n":50},{"t":4.1,"u":4.3,"d":1.5,"n":40},{"t":4.3,"u":4.5,"d":1.5,"n":35},{"t":4.5,"u":4.7,"d":1.5,"n":35},{"t":4.7,"u":4.9,"d":1.5,"n":45},{"t":4.9,"u":5.1,"d":1.5,"n":55},{"t":5.1,"u":5.3,"d":1.5,"n":50},{"t":5.3,"u":5.5,"d":1.5,"n":38},{"t":5.5,"u":5.76,"d":1.5,"n":30},
{"t":0.4,"u":0.6,"d":1.7,"n":15},{"t":0.6,"u":0.8,"d":1.7,"n":18},{"t":0.8,"u":1,"d":1.7,"n":22},{"t":1,"u":1.2,"d":1.7,"n":26},{"t":1.2,"u":1.4,"d":1.7,"n":26},{"t":1.4,"u":1.6,"d":1.7,"n":20},{"t":1.6,"u":1.8,"d":1.7,"n":24},{"t":1.8,"u":2,"d":1.7,"n":24},{"t":2,"u":2.2,"d":1.7,"n":18},{"t":2.2,"u":2.4,"d":1.7,"n":12},{"t":2.48,"u":2.54,"d":1.7,"n":6},{"t":2.72,"u":2.9,"d":1.7,"n":12},{"t":2.9,"u":3.1,"d":1.7,"n":14},{"t":3.1,"u":3.3,"d":1.7,"n":16},{"t":3.3,"u":3.5,"d":1.7,"n":18},{"t":3.5,"u":3.7,"d":1.7,"n":22},{"t":3.7,"u":3.9,"d":1.7,"n":25},{"t":3.9,"u":4.1,"d":1.7,"n":20},{"t":4.1,"u":4.3,"d":1.7,"n":16},{"t":4.3,"u":4.5,"d":1.7,"n":15},{"t":4.5,"u":4.7,"d":1.7,"n":16},{"t":4.7,"u":4.9,"d":1.7,"n":20},{"t":4.9,"u":5.1,"d":1.7,"n":24},{"t":5.1,"u":5.3,"d":1.7,"n":20},{"t":5.3,"u":5.5,"d":1.7,"n":16},{"t":5.5,"u":5.76,"d":1.7,"n":13},
{"t":0.4,"u":0.6,"d":1.9,"n":5},{"t":0.6,"u":0.8,"d":1.9,"n":5},{"t":0.8,"u":1,"d":1.9,"n":7},{"t":1,"u":1.2,"d":1.9,"n":8},{"t":1.2,"u":1.4,"d":1.9,"n":8},{"t":1.4,"u":1.6,"d":1.9,"n":6},{"t":1.6,"u":1.8,"d":1.9,"n":7},{"t":1.8,"u":2,"d":1.9,"n":7},{"t":2,"u":2.2,"d":1.9,"n":6},{"t":2.2,"u":2.4,"d":1.9,"n":4},{"t":2.48,"u":2.54,"d":1.9,"n":3},{"t":2.72,"u":2.9,"d":1.9,"n":4},{"t":2.9,"u":3.1,"d":1.9,"n":5},{"t":3.1,"u":3.3,"d":1.9,"n":5},{"t":3.3,"u":3.5,"d":1.9,"n":6},{"t":3.5,"u":3.7,"d":1.9,"n":7},{"t":3.7,"u":3.9,"d":1.9,"n":8},{"t":3.9,"u":4.1,"d":1.9,"n":7},{"t":4.1,"u":4.3,"d":1.9,"n":5},{"t":4.3,"u":4.5,"d":1.9,"n":5},{"t":4.5,"u":4.7,"d":1.9,"n":5},{"t":4.7,"u":4.9,"d":1.9,"n":6},{"t":4.9,"u":5.1,"d":1.9,"n":8},{"t":5.1,"u":5.3,"d":1.9,"n":7},{"t":5.3,"u":5.5,"d":1.9,"n":5},{"t":5.5,"u":5.76,"d":1.9,"n":5},
{"t":0.46,"u":0.7,"d":2.2,"n":3},{"t":0.75,"u":0.95,"d":2.2,"n":2.6},{"t":1,"u":1.25,"d":2.2,"n":2.6},{"t":1.3,"u":1.5,"d":2.2,"n":2.6},{"t":1.55,"u":1.75,"d":2.2,"n":2.6},{"t":1.8,"u":2,"d":2.2,"n":2.6},{"t":2.05,"u":2.32,"d":2.2,"n":2.6},{"t":2.48,"u":2.54,"d":2.2,"n":2.6},{"t":2.75,"u":2.82,"d":2.2,"n":2.6},{"t":2.86,"u":3.14,"d":2.2,"n":3},{"t":3.2,"u":3.33,"d":2.2,"n":2.6},{"t":3.38,"u":3.54,"d":2.2,"n":2.6},{"t":3.64,"u":3.8,"d":2.2,"n":4},{"t":3.9,"u":4.01,"d":2.2,"n":2.6},{"t":4.04,"u":4.29,"d":2.2,"n":2.6},{"t":4.43,"u":4.9,"d":2.2,"n":2.6},{"t":4.95,"u":5.23,"d":2.2,"n":2.6},{"t":5.26,"u":5.36,"d":2.2,"n":2.6},{"t":5.42,"u":5.78,"d":2.2,"n":3},
{"t":0.46,"u":0.51,"d":2.6,"n":2.5},{"t":0.6,"u":0.7,"d":2.6,"n":2.5},{"t":0.75,"u":0.82,"d":2.6,"n":2.5},{"t":0.88,"u":0.93,"d":2.6,"n":2.5},{"t":1.03,"u":1.1,"d":2.6,"n":2.5},{"t":1.15,"u":1.3,"d":2.6,"n":2.5},{"t":1.33,"u":1.42,"d":2.6,"n":2.5},{"t":1.6,"u":1.65,"d":2.6,"n":2.5},{"t":1.7,"u":1.85,"d":2.6,"n":2.5},{"t":1.95,"u":2,"d":2.6,"n":2.5},{"t":2.05,"u":2.1,"d":2.6,"n":2.5},{"t":2.26,"u":2.32,"d":2.6,"n":2.5},{"t":2.75,"u":2.8,"d":2.6,"n":2.5},{"t":2.85,"u":2.9,"d":2.6,"n":2.5},{"t":3.14,"u":3.17,"d":2.6,"n":2.5},{"t":3.33,"u":3.41,"d":2.6,"n":2.5},{"t":3.64,"u":3.78,"d":2.6,"n":2.5},{"t":3.9,"u":3.93,"d":2.6,"n":2.5},{"t":4.08,"u":4.19,"d":2.6,"n":2.5},{"t":4.32,"u":4.53,"d":2.6,"n":2.5},{"t":4.64,"u":4.71,"d":2.6,"n":2.5},{"t":5.05,"u":5.19,"d":2.6,"n":2.5},{"t":5.5,"u":5.55,"d":2.6,"n":2.5},{"t":5.6,"u":5.75,"d":2.6,"n":2.5},
{"t":0.62,"u":0.67,"d":3,"n":2.5},{"t":0.7,"u":0.79,"d":3,"n":2.5},{"t":0.88,"u":0.93,"d":3,"n":2.5},{"t":1.03,"u":1.1,"d":3,"n":2.5},{"t":1.2,"u":1.27,"d":3,"n":2.5},{"t":1.33,"u":1.4,"d":3,"n":2.5},{"t":1.69,"u":1.83,"d":3,"n":2.5},{"t":2.26,"u":2.32,"d":3,"n":2.5},{"t":3.12,"u":3.15,"d":3,"n":2.5},{"t":3.33,"u":3.36,"d":3,"n":2.5},{"t":3.67,"u":3.7,"d":3,"n":2.5},{"t":4.32,"u":4.53,"d":3,"n":2.5},{"t":5.1,"u":5.16,"d":3,"n":2.5},{"t":5.5,"u":5.55,"d":3,"n":2.5},{"t":5.68,"u":5.73,"d":3,"n":2.5},
{"t":0.88,"u":0.93,"d":3.4,"n":2.5},{"t":1.03,"u":1.07,"d":3.4,"n":2.5},{"t":1.74,"u":1.81,"d":3.4,"n":2.5},{"t":3.73,"u":3.79,"d":3.4,"n":2.5}]},
"concat":[
{"width":766,"height":304,"data":{"name":"dsd"},"transform":[{"lookup":"d","from":{"data":{"name":"dc"},"key":"d","fields":["e"]}}],"mark":{"type":"rect","clip":true,"strokeWidth":0.4},"encoding":{"x":{"field":"t","type":"quantitative","scale":{"domain":[0,24],"nice":false},"axis":{"values":[0,2,4,6,8,10,12,14,16,18,20,22,24],"labelExpr":"pad(datum.value%24,2,'0','left')","labelPadding":1,"title":null}},"x2":{"field":"u"},"y":{"field":"d","type":"quantitative","scale":{"domain":[0,8],"nice":false},"axis":{"values":[0,1,2,3,4,5,6,7,8],"title":"D [mm]","titlePadding":10}},"y2":{"field":"e"},"color":{"field":"n","type":"quantitative","scale":{"type":"log","domain":[1,3.162,10,31.62,100,316.2,1000,3162,10000],"range":["#8000ff","#4062fa","#00b4ec","#40ecd4","#80ffb4","#bfec8e","#ffb462","#ff6232","#ff0000"]},"legend":null},"stroke":{"field":"n","type":"quantitative","scale":{"type":"log","domain":[1,3.162,10,31.62,100,316.2,1000,3162,10000],"range":["#8000ff","#4062fa","#00b4ec","#40ecd4","#80ffb4","#bfec8e","#ffb462","#ff6232","#ff0000"]},"legend":null}}},
{"width":16,"height":304,"layer":[{"data":{"name":"cb"},"mark":{"type":"rect","strokeWidth":0.5},"encoding":{"x":{"value":0},"x2":{"value":16},"y":{"field":"a","type":"quantitative","scale":{"type":"log","domain":[1,10000],"nice":false},"axis":{"orient":"right","values":[1,10,100,1000,10000],"grid":false,"labelExpr":"{'1':'10⁰','10':'10¹','100':'10²','1000':'10³','10000':'10⁴'}[datum.value]","title":"Count [min⁻¹ mm⁻¹]","titleAngle":-90,"titlePadding":23}},"y2":{"field":"b"},"color":{"field":"m","type":"quantitative","scale":{"type":"log","domain":[1,3.162,10,31.62,100,316.2,1000,3162,10000],"range":["#8000ff","#4062fa","#00b4ec","#40ecd4","#80ffb4","#bfec8e","#ffb462","#ff6232","#ff0000"]},"legend":null},"stroke":{"field":"m","type":"quantitative","scale":{"type":"log","domain":[1,3.162,10,31.62,100,316.2,1000,3162,10000],"range":["#8000ff","#4062fa","#00b4ec","#40ecd4","#80ffb4","#bfec8e","#ffb462","#ff6232","#ff0000"]},"legend":null}}},{"data":{"name":"cbf"},"mark":{"type":"rect","fill":"transparent","stroke":"black","strokeWidth":1},"encoding":{"x":{"value":0},"x2":{"value":16},"y":{"field":"a","type":"quantitative"},"y2":{"field":"b"}}}]},
{"width":766,"height":304,"resolve":{"axis":{"x":"independent"}},"layer":[{"data":{"name":"vel"},"transform":[{"lookup":"d","from":{"data":{"name":"vc"},"key":"d","fields":["e"]}}],"mark":{"type":"rect","clip":true,"strokeWidth":0.4},"encoding":{"x":{"field":"t","type":"quantitative","scale":{"domain":[0,24],"nice":false},"axis":{"orient":"bottom","values":[0,2,4,6,8,10,12,14,16,18,20,22,24],"labelExpr":"pad(datum.value%24,2,'0','left')","labelPadding":1,"title":"Time [UTC]","titlePadding":25}},"x2":{"field":"u"},"y":{"field":"d","type":"quantitative","scale":{"domain":[0,13],"nice":false},"axis":{"values":[0,2,4,6,8,10,12],"title":"v [m/s]","titlePadding":10}},"y2":{"field":"e"},"color":{"field":"n","type":"quantitative","scale":{"type":"log","domain":[1,3.162,10,31.62,100,316.2,1000,3162,10000],"range":["#8000ff","#4062fa","#00b4ec","#40ecd4","#80ffb4","#bfec8e","#ffb462","#ff6232","#ff0000"]},"legend":null},"stroke":{"field":"n","type":"quantitative","scale":{"type":"log","domain":[1,3.162,10,31.62,100,316.2,1000,3162,10000],"range":["#8000ff","#4062fa","#00b4ec","#40ecd4","#80ffb4","#bfec8e","#ffb462","#ff6232","#ff0000"]},"legend":null}}},{"data":{"name":"dates"},"mark":{"type":"point","opacity":0},"encoding":{"x":{"field":"t","type":"quantitative","scale":{"domain":[0,24],"nice":false},"axis":{"orient":"bottom","values":[0,24],"labelExpr":"datum.value==0?'2023-01-23':'2023-01-24'","labelPadding":25,"ticks":false,"domain":false,"grid":false,"title":null}}}}]},
{"width":16,"height":304,"layer":[{"data":{"name":"cb"},"mark":{"type":"rect","strokeWidth":0.5},"encoding":{"x":{"value":0},"x2":{"value":16},"y":{"field":"a","type":"quantitative","scale":{"type":"log","domain":[1,10000],"nice":false},"axis":{"orient":"right","values":[1,10,100,1000,10000],"grid":false,"labelExpr":"{'1':'10⁰','10':'10¹','100':'10²','1000':'10³','10000':'10⁴'}[datum.value]","title":"Count [min⁻¹ (m/s)⁻¹]","titleAngle":-90,"titlePadding":23}},"y2":{"field":"b"},"color":{"field":"m","type":"quantitative","scale":{"type":"log","domain":[1,3.162,10,31.62,100,316.2,1000,3162,10000],"range":["#8000ff","#4062fa","#00b4ec","#40ecd4","#80ffb4","#bfec8e","#ffb462","#ff6232","#ff0000"]},"legend":null},"stroke":{"field":"m","type":"quantitative","scale":{"type":"log","domain":[1,3.162,10,31.62,100,316.2,1000,3162,10000],"range":["#8000ff","#4062fa","#00b4ec","#40ecd4","#80ffb4","#bfec8e","#ffb462","#ff6232","#ff0000"]},"legend":null}}},{"data":{"name":"cbf"},"mark":{"type":"rect","fill":"transparent","stroke":"black","strokeWidth":1},"encoding":{"x":{"value":0},"x2":{"value":16},"y":{"field":"a","type":"quantitative"},"y2":{"field":"b"}}}]}]}
